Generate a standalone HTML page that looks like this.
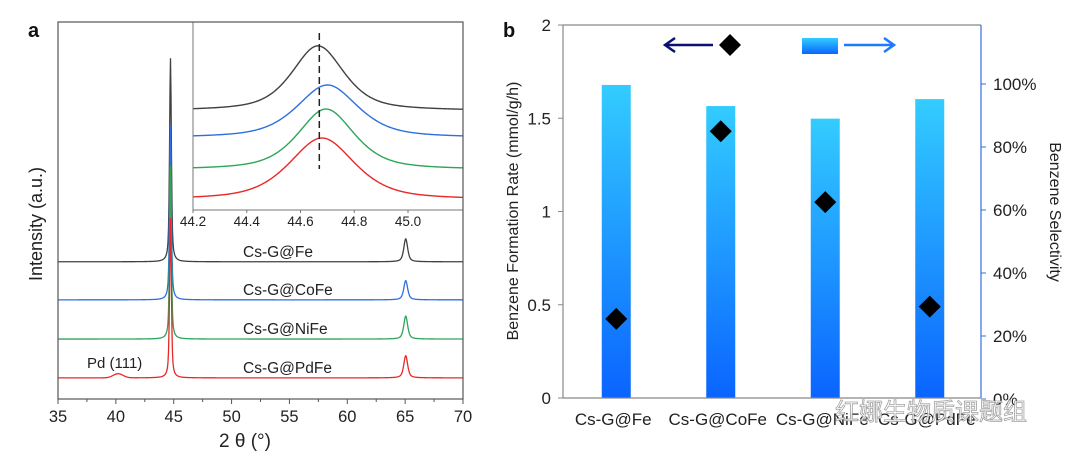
<!DOCTYPE html>
<html><head><meta charset="utf-8"><style>
html,body{margin:0;padding:0;background:#fff;}
svg{display:block;font-family:"Liberation Sans","Noto Sans CJK SC",sans-serif;}
</style></head><body>
<svg id="fig" width="1080" height="459" viewBox="0 0 1080 459">
<defs>
<linearGradient id="barGrad" x1="0" y1="0" x2="0" y2="1">
<stop offset="0" stop-color="#33ccff"/><stop offset="1" stop-color="#0a64ff"/>
</linearGradient>
</defs>
<g id="panelA"></g>
<g id="panelB"></g>
</svg>
<script>
// ---------- Panel A data ----------
const xrdSamples = ["Cs-G@Fe","Cs-G@CoFe","Cs-G@NiFe","Cs-G@PdFe"];
const xrdColors = ["#404040","#2f6fe0","#2ea55a","#e82828"];
const xrdBaselines = [36.4, 26.3, 15.9, 5.6];
const xrdMainPeakHeights = [54, 46.3, 46, 42.5];
const xrdPeak65Heights = [6.1, 5.1, 6.1, 5.9];
const xrdPdBumpHeights = [0, 0, 0, 1.1];
const xrdTicks = [35,40,45,50,55,60,65,70];
const insetBaselines = [52.7, 38.3, 21.3, 5.3];
const insetAmps = [34.6, 28.2, 32.4, 33];
const insetCenters = [44.665, 44.70, 44.695, 44.68];
const insetWidths = [0.23, 0.27, 0.25, 0.29];
const insetTicks = ["44.2","44.4","44.6","44.8","45.0"];
const dashedPos = 44.67;

// ---------- Panel B data ----------
const catalysts = ["Cs-G@Fe","Cs-G@CoFe","Cs-G@NiFe","Cs-G@PdFe"];
const selectivity = [99.7, 93, 89, 95.2];
const formationRate = [0.424, 1.43, 1.05, 0.49];
const leftTicks = ["0","0.5","1","1.5","2"];
const rightTicks = ["0%","20%","40%","60%","80%","100%"];

const NS="http://www.w3.org/2000/svg";
function mk(tag,attrs,parent){const e=document.createElementNS(NS,tag);for(const k in attrs)e.setAttribute(k,attrs[k]);parent.appendChild(e);return e;}

// ===== Panel A =====
const A=document.getElementById('panelA');
const ax0=58, ax1=463, ay0=399, ay1=22;
const xA=v=>ax0+(v-35)/35*(ax1-ax0);
const yA=v=>ay0-(v/100)*(ay0-ay1);
function pv(x,c,w){const d=(x-c)/(w/2);return 0.6/(1+d*d)+0.4*Math.exp(-Math.LN2*d*d);}
for(let s=0;s<4;s++){
  let d="";
  for(let px=ax0;px<=ax1;px+=0.5){
    const v=35+(px-ax0)/(ax1-ax0)*35;
    let I=xrdBaselines[s]+xrdMainPeakHeights[s]*pv(v,44.72,0.18)+xrdPeak65Heights[s]*pv(v,65.05,0.4)+xrdPdBumpHeights[s]*Math.exp(-Math.pow((v-40.2)/0.6,2));
    d+=(d?"L":"M")+xA(v).toFixed(2)+" "+yA(I).toFixed(2);
  }
  const p=mk('path',{d:d,fill:'none',stroke:xrdColors[s],'stroke-width':1.3},A);
  
  
}
// inset
const ix0=193, ix1=463, iy0=210, iy1=22;
const ig=mk('g',{},A);


mk('rect',{x:ix0,y:iy1,width:ix1-ix0,height:iy0-iy1,fill:'#fff'},ig);
const xI=v=>ix0+(v-44.2)/1.0*(268.75);
const yI=v=>iy0-(v/100)*(iy0-iy1);
for(let s=0;s<4;s++){
  let d="";
  for(let px=ix0;px<=ix1;px+=1){
    const v=44.2+(px-ix0)/268.75;
    const I=insetBaselines[s]+insetAmps[s]*pv(v,insetCenters[s],insetWidths[s]);
    d+=(d?"L":"M")+px+" "+yI(I).toFixed(2);
  }
  const p=mk('path',{d:d,fill:'none',stroke:xrdColors[s],'stroke-width':1.4},ig);
  
  
}
const dl=mk('line',{x1:xI(dashedPos),x2:xI(dashedPos),y1:33,y2:169,stroke:'#222','stroke-width':1.5,'stroke-dasharray':'7,4'},ig);


mk('polyline',{points:`${ix0},${iy1} ${ix0},${iy0} ${ix1},${iy0}`,fill:'none',stroke:'#777','stroke-width':1},ig);
insetTicks.forEach(t=>{
  const x=xI(parseFloat(t));
  mk('line',{x1:x,x2:x,y1:iy0,y2:iy0+3,stroke:'#777'},ig);
  const tx=mk('text',{x:x,y:iy0+16,'font-size':13.5,'text-anchor':'middle',fill:'#222'},ig);
  tx.textContent=t;
  
  
});
// frame & axes
const fr=mk('rect',{x:ax0,y:ay1,width:ax1-ax0,height:ay0-ay1,fill:'none',stroke:'#555','stroke-width':1.2},A);


for(let v=35;v<=70;v+=2.5){
  const x=xA(v); const major=(v%5===0);
  mk('line',{x1:x,x2:x,y1:ay0,y2:ay0+(major?5:3),stroke:'#555','stroke-width':1},A);
}
xrdTicks.forEach(t=>{
  const tx=mk('text',{x:xA(t),y:422,'font-size':16.5,'text-anchor':'middle',fill:'#222'},A);
  tx.textContent=t;
  
  
});
// labels
const labY=[257,295,334,373];
xrdSamples.forEach((n,i)=>{
  const tx=mk('text',{x:243,y:labY[i],'font-size':15.5,fill:'#222'},A);
  tx.textContent=n;
  
  
});
let t;
t=mk('text',{x:87,y:368,'font-size':15,fill:'#222'},A);t.textContent="Pd (111)";


t=mk('text',{x:245,y:447,'font-size':19,'text-anchor':'middle',fill:'#222'},A);t.textContent="2 θ (°)";


t=mk('text',{x:0,y:0,'font-size':18,'text-anchor':'middle',fill:'#222',transform:'translate(42,224) rotate(-90)'},A);t.textContent="Intensity (a.u.)";


t=mk('text',{x:28,y:37,'font-size':20,'font-weight':'bold',fill:'#111'},A);t.textContent="a";



// ===== Panel B =====
const B=document.getElementById('panelB');
const bx0=563, bx1=981, by0=398, by1=25;
const yL=v=>by0-v/2*(by0-by1);
const yR=v=>399-v/100*(399-84);
const band=(bx1-bx0)/catalysts.length;
const xC=i=>bx0+band*(i+0.5)+1;
catalysts.forEach((c,i)=>{
  const r=mk('rect',{x:xC(i)-14.5,y:yR(selectivity[i]),width:29,height:by0-yR(selectivity[i]),fill:'url(#barGrad)'},B);
  
  
});
formationRate.forEach((v,i)=>{
  const cx=xC(i), cy=yL(v), h=11;
  const p=mk('polygon',{points:`${cx},${cy-h} ${cx+h},${cy} ${cx},${cy+h} ${cx-h},${cy}`,fill:'#000'},B);
  
  
});
// axes
mk('line',{x1:bx0,x2:bx1,y1:by1,y2:by1,stroke:'#888','stroke-width':1.2},B);
mk('line',{x1:bx0,x2:bx1,y1:by0,y2:by0,stroke:'#888','stroke-width':1.2},B);
const la=mk('line',{x1:bx0,x2:bx0,y1:by1,y2:by0,stroke:'#888','stroke-width':1.2},B);


const ra=mk('line',{x1:bx1,x2:bx1,y1:by1,y2:by0,stroke:'#3a6fe0','stroke-width':1.2},B);


leftTicks.forEach(s=>{
  const y=yL(parseFloat(s));
  mk('line',{x1:bx0-5,x2:bx0,y1:y,y2:y,stroke:'#888'},B);
  const tx=mk('text',{x:bx0-12,y:y+6,'font-size':17,'text-anchor':'end',fill:'#222'},B);
  tx.textContent=s;
  
  
});
rightTicks.forEach(s=>{
  const y=yR(parseFloat(s));
  mk('line',{x1:bx1,x2:bx1+5,y1:y,y2:y,stroke:'#3a6fe0'},B);
  const tx=mk('text',{x:bx1+12,y:y+6,'font-size':17,fill:'#222'},B);
  tx.textContent=s;
  
  
});
catalysts.forEach((c,i)=>{
  const tx=mk('text',{x:xC(i)-3,y:425,'font-size':17,'text-anchor':'middle',fill:'#222'},B);
  tx.textContent=c;
  
  
});
t=mk('text',{x:0,y:0,'font-size':16,'text-anchor':'middle',fill:'#222',transform:'translate(518,211) rotate(-90)'},B);t.textContent="Benzene Formation Rate (mmol/g/h)";


t=mk('text',{x:0,y:0,'font-size':16,'text-anchor':'middle',fill:'#222',transform:'translate(1050,212) rotate(90)'},B);t.textContent="Benzene Selectivity";


t=mk('text',{x:503,y:37,'font-size':20,'font-weight':'bold',fill:'#111'},B);t.textContent="b";


// legend
const lg=mk('g',{},B);


mk('line',{x1:667,x2:713,y1:45,y2:45,stroke:'#0b1170','stroke-width':2.5},lg);
mk('polyline',{points:'675,38 665,45 675,52',fill:'none',stroke:'#0b1170','stroke-width':2.5},lg);
mk('polygon',{points:'730,34 741,45 730,56 719,45',fill:'#000'},lg);
mk('rect',{x:802,y:38,width:36,height:16,fill:'url(#barGrad)'},lg);
mk('line',{x1:844,x2:892,y1:45,y2:45,stroke:'#1f78ff','stroke-width':2.5},lg);
mk('polyline',{points:'884,38 894,45 884,52',fill:'none',stroke:'#1f78ff','stroke-width':2.5},lg);
// watermark
t=mk('text',{x:835,y:420,'font-size':24,fill:'#fff',stroke:'#999','stroke-width':0.8,opacity:0.9},B);t.textContent="红娜生物质课题组";


</script>
</body></html>
